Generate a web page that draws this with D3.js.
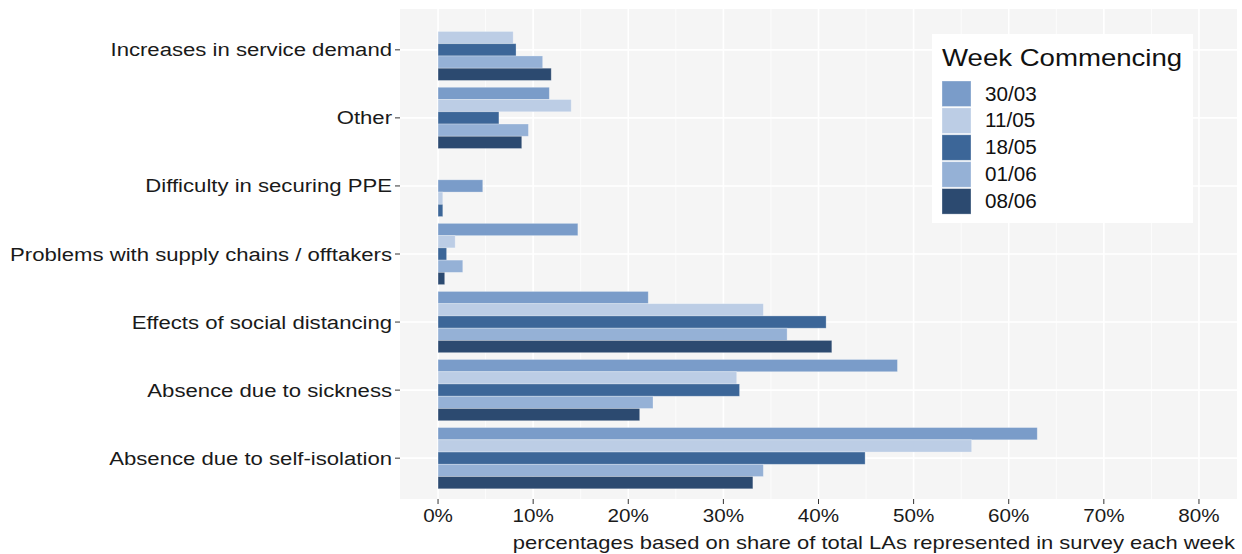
<!DOCTYPE html>
<html><head><meta charset="utf-8">
<script src="https://cdn.jsdelivr.net/npm/d3@7"></script>
<style>body{margin:0;background:#fff}svg{display:block}text{font-family:"Liberation Sans",Arial,sans-serif}</style>
</head><body>
<svg id="c" width="1242" height="554"></svg>
<script>
const categories = ["Increases in service demand","Other","Difficulty in securing PPE","Problems with supply chains / offtakers","Effects of social distancing","Absence due to sickness","Absence due to self-isolation"];
const weeks = ["30/03","11/05","18/05","01/06","08/06"];
const weekColors = ["#7a9cc9","#bccde5","#3c6698","#95b1d6","#2c4a70"];
// percentages, per week (order of categories)
const w3003 = [null, 11.7, 4.7, 14.7, 22.1, 48.3, 63.0];
const w1105 = [7.9, 14.0, 0.5, 1.8, 34.2, 31.4, 56.1];
const w1805 = [8.2, 6.4, 0.5, 0.9, 40.8, 31.7, 44.9];
const w0106 = [11.0, 9.5, null, 2.6, 36.7, 22.6, 34.2];
const w0806 = [11.9, 8.8, null, 0.7, 41.4, 21.2, 33.1];
const xTicks = [0,10,20,30,40,50,60,70,80];
const xTitle = "percentages based on share of total LAs represented in survey each week";
const legendTitle = "Week Commencing";

const series = [w3003,w1105,w1805,w0106,w0806];
const svg = d3.select("#c");
const P = {l:400, r:1237, t:9, b:499};
const x = d3.scaleLinear().domain([-4,84]).range([P.l,P.r]);
// discrete expansion: 0.6 units each side; group width 0.9
const unit = (P.b-P.t)/(categories.length-1+1.2);
const yc = c => P.t + unit*(0.6 + categories.indexOf(c));
const slot = d3.scaleBand().domain(d3.range(weeks.length)).range([-unit*0.45, unit*0.45]);

svg.append("rect").attr("x",P.l).attr("y",P.t).attr("width",P.r-P.l).attr("height",P.b-P.t).attr("fill","#f5f5f5");
const minor = [5,15,25,35,45,55,65,75];
svg.append("g").selectAll("line").data(minor).join("line")
  .attr("x1",d=>x(d)).attr("x2",d=>x(d)).attr("y1",P.t).attr("y2",P.b)
  .attr("stroke","#fff").attr("stroke-width",0.8);
svg.append("g").selectAll("line").data(xTicks).join("line")
  .attr("x1",d=>x(d)).attr("x2",d=>x(d)).attr("y1",P.t).attr("y2",P.b)
  .attr("stroke","#fff").attr("stroke-width",1.6);
svg.append("g").selectAll("line").data(categories).join("line")
  .attr("x1",P.l).attr("x2",P.r).attr("y1",d=>yc(d)).attr("y2",d=>yc(d))
  .attr("stroke","#fff").attr("stroke-width",1.6);

// bars: present bars of a category fill the last k slots (ggplot dodge)
const bars = [];
categories.forEach((c,ci)=>{
  const present = [];
  series.forEach((s,si)=>{ if(s[ci]!=null) present.push({c,w:weeks[si],v:s[ci],si}); });
  present.forEach((b,j)=>{ b.slot = weeks.length - present.length + j; bars.push(b); });
});
svg.append("g").selectAll("rect").data(bars).join("rect")
  .attr("x",x(0)).attr("y",d=>yc(d.c)+slot(d.slot))
  .attr("width",d=>x(d.v)-x(0)).attr("height",slot.bandwidth())
  .attr("fill",d=>weekColors[d.si])
  .attr("stroke","#ffffff").attr("stroke-opacity",0.35).attr("stroke-width",0.8);

// y axis
const gy = svg.append("g");
categories.forEach(c=>{
  gy.append("line").attr("x1",P.l-5).attr("x2",P.l).attr("y1",yc(c)).attr("y2",yc(c)).attr("stroke","#333").attr("stroke-width",1);
  gy.append("text").attr("transform",`translate(${P.l-8},${yc(c)+6.5}) scale(1.165,1)`)
    .attr("text-anchor","end").attr("font-size",19).attr("fill","#1a1a1a").text(c);
});
// x axis
const gx = svg.append("g");
xTicks.forEach(t=>{
  gx.append("line").attr("x1",x(t)).attr("x2",x(t)).attr("y1",P.b).attr("y2",P.b+5).attr("stroke","#333");
  gx.append("text").attr("transform",`translate(${x(t)},${P.b+23}) scale(1.18,1)`)
    .attr("text-anchor","middle").attr("font-size",17.5).attr("fill","#1a1a1a").text(t+"%");
});
svg.append("text").attr("transform",`translate(${P.r-2},${P.b+50}) scale(1.22,1)`)
  .attr("text-anchor","end").attr("font-size",18).attr("fill","#1a1a1a").text(xTitle);

// legend
const L = {x:932,y:34,w:261,h:189};
svg.append("rect").attr("x",L.x).attr("y",L.y).attr("width",L.w).attr("height",L.h).attr("fill","#fff");
svg.append("text").attr("transform",`translate(${L.x+10},${L.y+32}) scale(1.2,1)`)
  .attr("font-size",23).attr("fill","#111").text(legendTitle);
weeks.forEach((w,i)=>{
  const ky = 81 + i*26.9;
  svg.append("rect").attr("x",942).attr("y",ky).attr("width",29).attr("height",25.5).attr("fill",weekColors[i])
    .attr("stroke","#fff").attr("stroke-opacity",0.4).attr("stroke-width",0.8);
  svg.append("text").attr("transform",`translate(985,${ky+19.5}) scale(1.06,1)`)
    .attr("font-size",19.5).attr("fill","#111").text(w);
});
</script>
</body></html>
